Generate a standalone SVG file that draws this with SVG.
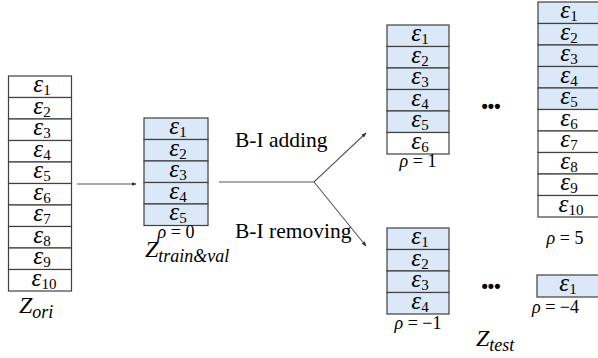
<svg xmlns="http://www.w3.org/2000/svg" width="598" height="358" viewBox="0 0 598 358">
<style>
.c{stroke:#404040;stroke-width:1.2}
.w{fill:#ffffff}
.b{fill:#dae8f7}
.e{font-family:"Liberation Serif",serif;font-style:italic;font-size:25px;fill:#000;text-anchor:middle}
.s{font-style:normal;font-size:15px}
.r{font-family:"Liberation Serif",serif;font-size:18px;fill:#000}
.ri{font-style:italic}
.z{font-family:"Liberation Serif",serif;font-style:italic;font-size:24px;fill:#000}
.zs{font-size:18px}
.lb{font-family:"Liberation Serif",serif;font-size:21.5px;fill:#000}
.dots{font-family:"Liberation Sans",sans-serif;font-weight:bold;font-size:18px;fill:#000}
.ln{stroke:#555;stroke-width:1.1;fill:none}
</style>
<defs>
<marker id="ah" viewBox="0 0 10 10" refX="9" refY="5" markerWidth="5" markerHeight="5" orient="auto" markerUnits="userSpaceOnUse">
<path d="M0,1 L10,5 L0,9 Z" fill="#333"/>
</marker>
</defs>
<g id="connectors">
<line class="ln" x1="77" y1="184" x2="136" y2="184" marker-end="url(#ah)"/>
<polyline class="ln" points="219,182 314,182 366,133" marker-end="url(#ah)"/>
<line class="ln" x1="314" y1="182" x2="366" y2="246" marker-end="url(#ah)"/>
</g>
<g id="z-ori">
<rect class="c w" x="8.5" y="76" width="63" height="21.5"/>
<rect class="c w" x="8.5" y="97.5" width="63" height="21.5"/>
<rect class="c w" x="8.5" y="119" width="63" height="21.5"/>
<rect class="c w" x="8.5" y="140.5" width="63" height="21.5"/>
<rect class="c w" x="8.5" y="162" width="63" height="21.5"/>
<rect class="c w" x="8.5" y="183.5" width="63" height="21.5"/>
<rect class="c w" x="8.5" y="205" width="63" height="21.5"/>
<rect class="c w" x="8.5" y="226.5" width="63" height="21.5"/>
<rect class="c w" x="8.5" y="248" width="63" height="21.5"/>
<rect class="c w" x="8.5" y="269.5" width="63" height="21.5"/>
<text class="e" x="42" y="92">ε<tspan class="s" dy="3">1</tspan></text>
<text class="e" x="42" y="113.5">ε<tspan class="s" dy="3">2</tspan></text>
<text class="e" x="42" y="135">ε<tspan class="s" dy="3">3</tspan></text>
<text class="e" x="42" y="156.5">ε<tspan class="s" dy="3">4</tspan></text>
<text class="e" x="42" y="178">ε<tspan class="s" dy="3">5</tspan></text>
<text class="e" x="42" y="199.5">ε<tspan class="s" dy="3">6</tspan></text>
<text class="e" x="42" y="221">ε<tspan class="s" dy="3">7</tspan></text>
<text class="e" x="42" y="242.5">ε<tspan class="s" dy="3">8</tspan></text>
<text class="e" x="42" y="264">ε<tspan class="s" dy="3">9</tspan></text>
<text class="e" x="44" y="285.5">ε<tspan class="s" dy="3">10</tspan></text>
<text class="z" x="19" y="313">Z<tspan class="zs" dy="5">ori</tspan></text>
</g>
<g id="z-trainval">
<rect class="c b" x="144" y="118" width="64" height="21.5"/>
<rect class="c b" x="144" y="139.5" width="64" height="21.5"/>
<rect class="c b" x="144" y="161" width="64" height="21.5"/>
<rect class="c b" x="144" y="182.5" width="64" height="21.5"/>
<rect class="c b" x="144" y="204" width="64" height="21.5"/>
<text class="e" x="178" y="134">ε<tspan class="s" dy="3">1</tspan></text>
<text class="e" x="178" y="155.5">ε<tspan class="s" dy="3">2</tspan></text>
<text class="e" x="178" y="177">ε<tspan class="s" dy="3">3</tspan></text>
<text class="e" x="178" y="198.5">ε<tspan class="s" dy="3">4</tspan></text>
<text class="e" x="178" y="220">ε<tspan class="s" dy="3">5</tspan></text>
<text class="r" x="176" y="238" text-anchor="middle"><tspan class="ri">ρ</tspan> = 0</text>
<text class="z" x="145" y="257">Z<tspan class="zs" dy="5">train&amp;val</tspan></text>
</g>
<g id="labels">
<text class="lb" x="235" y="147">B-I adding</text>
<text class="lb" x="235" y="238">B-I removing</text>
</g>
<g id="p1">
<rect class="c b" x="387" y="25" width="62" height="21.5"/>
<rect class="c b" x="387" y="46.5" width="62" height="21.5"/>
<rect class="c b" x="387" y="68" width="62" height="21.5"/>
<rect class="c b" x="387" y="89.5" width="62" height="21.5"/>
<rect class="c b" x="387" y="111" width="62" height="21.5"/>
<rect class="c w" x="387" y="132.5" width="62" height="21.5"/>
<text class="e" x="420" y="41">ε<tspan class="s" dy="3">1</tspan></text>
<text class="e" x="420" y="62.5">ε<tspan class="s" dy="3">2</tspan></text>
<text class="e" x="420" y="84">ε<tspan class="s" dy="3">3</tspan></text>
<text class="e" x="420" y="105.5">ε<tspan class="s" dy="3">4</tspan></text>
<text class="e" x="420" y="127">ε<tspan class="s" dy="3">5</tspan></text>
<text class="e" x="420" y="148.5">ε<tspan class="s" dy="3">6</tspan></text>
<text class="r" x="418" y="167" text-anchor="middle"><tspan class="ri">ρ</tspan> = 1</text>
</g>
<g id="pm1">
<rect class="c b" x="387" y="228" width="62" height="21.5"/>
<rect class="c b" x="387" y="249.5" width="62" height="21.5"/>
<rect class="c b" x="387" y="271" width="62" height="21.5"/>
<rect class="c b" x="387" y="292.5" width="62" height="21.5"/>
<text class="e" x="420" y="244">ε<tspan class="s" dy="3">1</tspan></text>
<text class="e" x="420" y="265.5">ε<tspan class="s" dy="3">2</tspan></text>
<text class="e" x="420" y="287">ε<tspan class="s" dy="3">3</tspan></text>
<text class="e" x="420" y="308.5">ε<tspan class="s" dy="3">4</tspan></text>
<text class="r" x="418" y="329" text-anchor="middle"><tspan class="ri">ρ</tspan> = −1</text>
</g>
<g id="dots">
<text class="dots" x="491" y="112" text-anchor="middle">•••</text>
<text class="dots" x="491" y="292" text-anchor="middle">•••</text>
</g>
<g id="p5">
<rect class="c b" x="538" y="2" width="62" height="21.5"/>
<rect class="c b" x="538" y="23.5" width="62" height="21.5"/>
<rect class="c b" x="538" y="45" width="62" height="21.5"/>
<rect class="c b" x="538" y="66.5" width="62" height="21.5"/>
<rect class="c b" x="538" y="88" width="62" height="21.5"/>
<rect class="c w" x="538" y="109.5" width="62" height="21.5"/>
<rect class="c w" x="538" y="131" width="62" height="21.5"/>
<rect class="c w" x="538" y="152.5" width="62" height="21.5"/>
<rect class="c w" x="538" y="174" width="62" height="21.5"/>
<rect class="c w" x="538" y="195.5" width="62" height="21.5"/>
<text class="e" x="569" y="18">ε<tspan class="s" dy="3">1</tspan></text>
<text class="e" x="569" y="39.5">ε<tspan class="s" dy="3">2</tspan></text>
<text class="e" x="569" y="61">ε<tspan class="s" dy="3">3</tspan></text>
<text class="e" x="569" y="82.5">ε<tspan class="s" dy="3">4</tspan></text>
<text class="e" x="569" y="104">ε<tspan class="s" dy="3">5</tspan></text>
<text class="e" x="569" y="125.5">ε<tspan class="s" dy="3">6</tspan></text>
<text class="e" x="569" y="147">ε<tspan class="s" dy="3">7</tspan></text>
<text class="e" x="569" y="168.5">ε<tspan class="s" dy="3">8</tspan></text>
<text class="e" x="569" y="190">ε<tspan class="s" dy="3">9</tspan></text>
<text class="e" x="571" y="211.5">ε<tspan class="s" dy="3">10</tspan></text>
<text class="r" x="565" y="244" text-anchor="middle"><tspan class="ri">ρ</tspan> = 5</text>
</g>
<g id="pm4">
<rect class="c b" x="537" y="275" width="63" height="22"/>
<text class="e" x="568" y="291">ε<tspan class="s" dy="3">1</tspan></text>
<text class="r" x="532" y="313"><tspan class="ri">ρ</tspan> = −4</text>
</g>
<g id="z-test">
<text class="z" x="476" y="346">Z<tspan class="zs" dy="5">test</tspan></text>
</g>
</svg>
